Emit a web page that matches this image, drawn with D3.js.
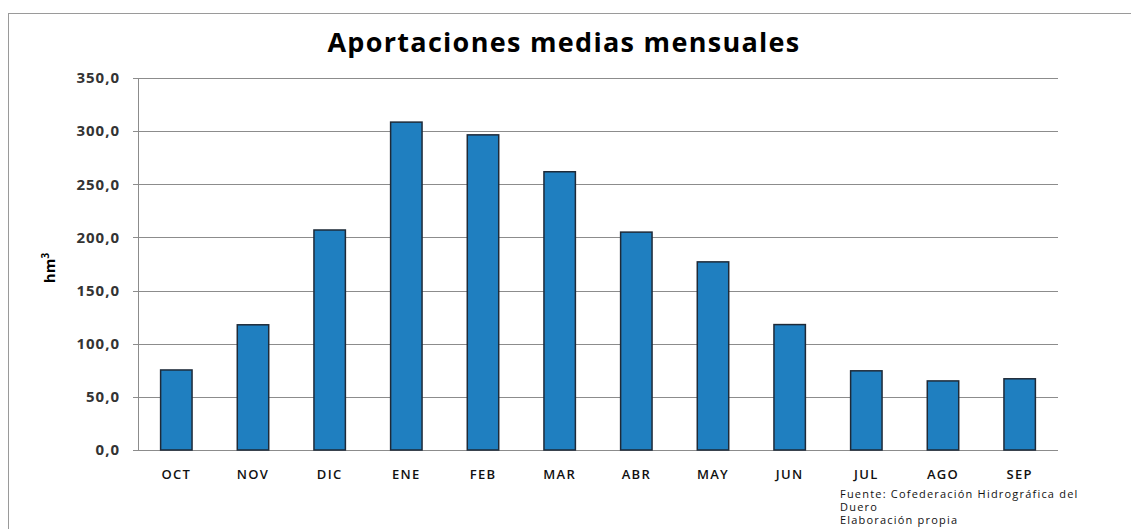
<!DOCTYPE html>
<html>
<head>
<meta charset="utf-8">
<script src="https://cdn.jsdelivr.net/npm/d3@7"></script>
<style>
  body { margin: 0; background: #fff; }
  text { font-family: "Open Sans", "DejaVu Sans", sans-serif; }
</style>
</head>
<body>
<div id="chart"></div>
<script>
  const MONTHS = ["OCT", "NOV", "DIC", "ENE", "FEB", "MAR", "ABR", "MAY", "JUN", "JUL", "AGO", "SEP"];
  const VALUES = [75.3, 117.8, 207.0, 308.5, 296.5, 261.8, 205.0, 177.0, 118.0, 74.5, 65.0, 67.0];
  const Y_TICKS = [0, 50, 100, 150, 200, 250, 300, 350];
  const SOURCE_LINES = ["Fuente: Cofederación Hidrográfica del", "Duero", "Elaboración propia"];

  const width = 1131;
  const height = 529;
  const margin = { top: 78, right: 73, bottom: 79, left: 138 };

  const svg = d3.select("#chart")
    .append("svg")
    .attr("width", width)
    .attr("height", height);

  // outer frame of the chart object
  svg.append("rect")
    .attr("x", 8.5)
    .attr("y", 13.5)
    .attr("width", width + 10)
    .attr("height", height + 10)
    .attr("fill", "none")
    .attr("stroke", "#9a9a9a")
    .attr("stroke-width", 1);

  const x = d3.scaleBand()
    .domain(MONTHS)
    .range([margin.left, width - margin.right])
    .paddingInner(0.59)
    .paddingOuter(0.295);

  const y = d3.scaleLinear()
    .domain([0, 350])
    .range([height - margin.bottom, margin.top]);

  // gridlines
  svg.append("g")
    .selectAll("line")
    .data(Y_TICKS)
    .enter()
    .append("line")
    .attr("x1", margin.left)
    .attr("x2", width - margin.right)
    .attr("y1", d => Math.round(y(d)) + 0.5)
    .attr("y2", d => Math.round(y(d)) + 0.5)
    .attr("stroke", "#8c8c8c")
    .attr("stroke-width", 1);

  // left axis line
  svg.append("line")
    .attr("x1", margin.left + 0.5)
    .attr("x2", margin.left + 0.5)
    .attr("y1", y(350))
    .attr("y2", y(0))
    .attr("stroke", "#8c8c8c");

  // tick marks on left
  svg.append("g")
    .selectAll("line")
    .data(Y_TICKS)
    .enter()
    .append("line")
    .attr("x1", margin.left - 5)
    .attr("x2", margin.left)
    .attr("y1", d => Math.round(y(d)) + 0.5)
    .attr("y2", d => Math.round(y(d)) + 0.5)
    .attr("stroke", "#8c8c8c");

  const fmt = d => d3.format(".1f")(d).replace(".", ",");

  svg.append("g")
    .selectAll("text")
    .data(Y_TICKS)
    .enter()
    .append("text")
    .attr("x", margin.left - 18)
    .attr("y", d => y(d))
    .attr("dy", "0.35em")
    .attr("text-anchor", "end")
    .attr("font-size", 15)
    .attr("font-weight", "bold")
    .attr("letter-spacing", 1)
    .attr("fill", "#333")
    .text(fmt);

  // bars
  svg.append("g")
    .selectAll("rect")
    .data(MONTHS)
    .enter()
    .append("rect")
    .attr("x", d => x(d))
    .attr("y", (d, i) => y(VALUES[i]))
    .attr("width", x.bandwidth())
    .attr("height", (d, i) => y(0) - y(VALUES[i]))
    .attr("fill", "#1f7fc0")
    .attr("stroke", "#1e2a38")
    .attr("stroke-width", 1.5);

  // x labels
  svg.append("g")
    .selectAll("text")
    .data(MONTHS)
    .enter()
    .append("text")
    .attr("x", d => x(d) + x.bandwidth() / 2)
    .attr("y", 479)
    .attr("text-anchor", "middle")
    .attr("font-size", 13)
    .attr("letter-spacing", 1.3)
    .attr("fill", "#111")
    .style("font-weight", 600)
    .text(d => d);

  // title
  svg.append("text")
    .attr("x", 564)
    .attr("y", 52)
    .attr("text-anchor", "middle")
    .attr("font-size", 27)
    .attr("font-weight", "bold")
    .attr("letter-spacing", 1.3)
    .attr("fill", "#000")
    .text("Aportaciones medias mensuales");

  // y axis label
  const yl = svg.append("text")
    .attr("transform", "translate(55,268) rotate(-90)")
    .attr("text-anchor", "middle")
    .attr("font-size", 15)
    .attr("font-weight", "bold")
    .attr("fill", "#000");
  yl.append("tspan").text("hm");
  yl.append("tspan").attr("dy", -6).attr("font-size", 10).text("3");

  // source note
  svg.append("g")
    .selectAll("text")
    .data(SOURCE_LINES)
    .enter()
    .append("text")
    .attr("x", 840)
    .attr("y", (d, i) => 498 + i * 13)
    .attr("font-size", 11)
    .attr("letter-spacing", 1.2)
    .attr("fill", "#111")
    .text(d => d);
</script>
</body>
</html>
